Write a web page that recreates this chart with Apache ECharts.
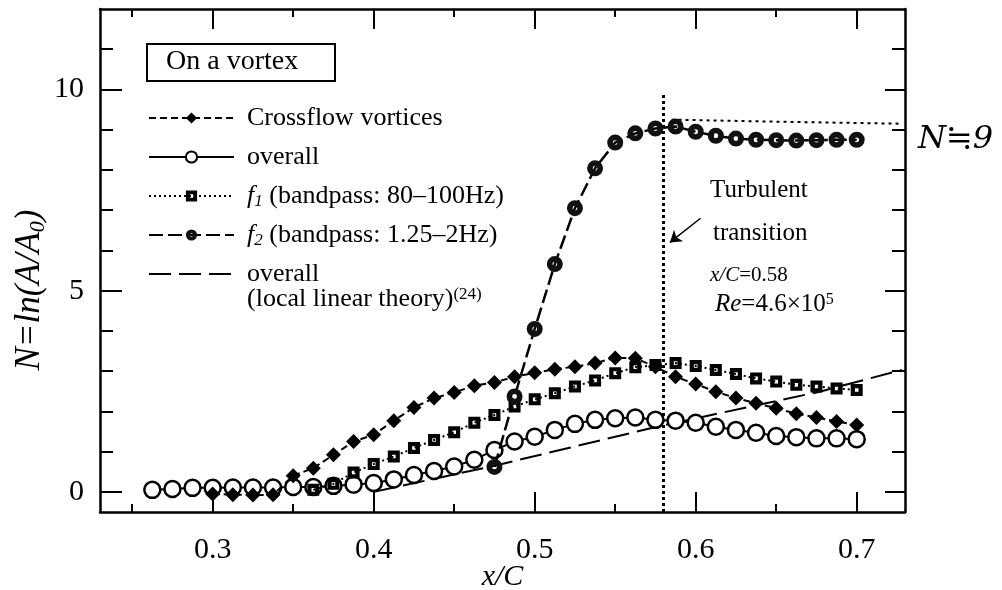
<!DOCTYPE html>
<html>
<head>
<meta charset="utf-8">
<script src="https://cdn.jsdelivr.net/npm/echarts@6/dist/echarts.min.js"></script>
<style>
    html, body { margin: 0; padding: 0; background: #fff; }
    #chart { width: 1002px; height: 590px; }
</style>
</head>
<body>
<div id="chart"></div>
<script>
// x/C stations of the measured points
var stations = [0.2625, 0.275, 0.2875, 0.3, 0.3125, 0.325, 0.3375, 0.35, 0.3625, 0.375, 0.3875, 0.4,
    0.4125, 0.425, 0.4375, 0.45, 0.4625, 0.475, 0.4875, 0.5, 0.5125, 0.525, 0.5375, 0.55,
    0.5625, 0.575, 0.5875, 0.6, 0.6125, 0.625, 0.6375, 0.65, 0.6625, 0.675, 0.6875, 0.7]

var crossflow = [null, null, null, -0.05, -0.07, -0.08, -0.07, 0.4, 0.59, 0.92, 1.25, 1.42,
    1.77, 2.1, 2.33, 2.47, 2.64, 2.72, 2.86, 2.96, 3.05, 3.11, 3.2, 3.33,
    3.32, 3.11, 2.86, 2.68, 2.49, 2.33, 2.2, 2.08, 1.94, 1.85, 1.75, 1.66]

var overall = [0.05, 0.07, 0.1, 0.1, 0.11, 0.11, 0.11, 0.12, 0.12, 0.15, 0.18, 0.22,
    0.31, 0.42, 0.52, 0.63, 0.8, 1.04, 1.25, 1.37, 1.54, 1.69, 1.79, 1.83,
    1.85, 1.79, 1.77, 1.72, 1.62, 1.54, 1.47, 1.39, 1.36, 1.33, 1.33, 1.31]

var f1Band = [null, null, null, null, null, null, null, null, 0.05, 0.2, 0.48, 0.69,
    0.88, 1.09, 1.29, 1.48, 1.72, 1.91, 2.12, 2.3, 2.45, 2.62, 2.77, 2.95,
    3.1, 3.15, 3.2, 3.13, 3.03, 2.93, 2.82, 2.74, 2.66, 2.62, 2.57, 2.53]

var f2Band = [null, null, null, null, null, null, null, null, null, null, null, null,
    null, null, null, null, null, 0.62, 2.37, 4.05, 5.66, 7.05, 8.04, 8.68,
    8.91, 9.03, 9.08, 8.95, 8.85, 8.78, 8.75, 8.74, 8.73, 8.74, 8.75, 8.75]

// local linear theory (ref. 24)
var theoryX = [0.4, 0.475, 0.576, 0.677, 0.728]
var theoryN = [0, 0.65, 1.62, 2.49, 3.03]

// turbulent transition and the hand drawn N=9 level
var transitionX = 0.58
var transitionN = [-0.5, 9.9]
var nineX = [0.585, 0.65, 0.727]
var nineN = [9.25, 9.2, 9.15]
var arrowFrom = [0.603, 6.8]
var arrowTo = [0.584, 6.2]

var xLabels = [0.3, 0.4, 0.5, 0.6, 0.7]
var xMinor = [0.25, 0.35, 0.45, 0.55, 0.65]
var yLabels = [0, 5, 10]
var yMinor = [1, 2, 3, 4, 6, 7, 8, 9, 11]

var serif = 'Liberation Serif'
var black = '#000'

function pairs(xs, ys) {
    return xs.map(function (x, i) {
        return [x, ys[i]]
    }).filter(function (p) {
        return p[1] != null
    })
}

function xAx(pos, ticks, len, line, labels) {
    return {
        type: 'value', min: 0.23, max: 0.73, position: pos,
        axisLine: {show: line, onZero: false, lineStyle: {color: black, width: 2.5}},
        axisTick: {show: true, inside: true, length: len, customValues: ticks, lineStyle: {color: black, width: 2}},
        axisLabel: labels ? {
            customValues: labels, color: black, fontSize: 30, fontFamily: serif, margin: 23,
            formatter: function (v) { return v.toFixed(1) }
        } : {show: false},
        splitLine: {show: false}
    }
}

function yAx(pos, ticks, len, line, labels) {
    return {
        type: 'value', min: -0.5, max: 12, position: pos,
        axisLine: {show: line, onZero: false, lineStyle: {color: black, width: 2.5}},
        axisTick: {show: true, inside: true, length: len, customValues: ticks, lineStyle: {color: black, width: 2}},
        axisLabel: labels ? {
            customValues: labels, color: black, fontSize: 30, fontFamily: serif, margin: 16
        } : {show: false},
        splitLine: {show: false}
    }
}

var ringPath = 'path://M10,0A10,10,0,1,1,-10,0A10,10,0,1,1,10,0ZM3,0A3,3,0,1,0,-3,0A3,3,0,1,0,3,0Z'
var squarePath = 'path://M-5,-5L5,-5L5,5L-5,5ZM-1.5,-1.5L-1.5,1.5L1.5,1.5L1.5,-1.5Z'

var chart = echarts.init(document.getElementById('chart'))

var xBottom = xAx('bottom', xLabels, 20, true, xLabels)
xBottom.name = 'x/C'
xBottom.nameLocation = 'middle'
xBottom.nameGap = 50
xBottom.nameMoveOverlap = false
xBottom.nameTextStyle = {color: black, fontSize: 30, fontFamily: serif, fontStyle: 'italic'}

var option = {
    animation: false,
    backgroundColor: '#fff',
    grid: {left: 100, right: 97, top: 9, bottom: 78, containLabel: false, outerBoundsMode: 'none'},
    xAxis: [
        xBottom,
        xAx('bottom', xMinor, 8, false),
        xAx('top', xLabels, 20, true),
        xAx('top', xMinor, 8, false)
    ],
    yAxis: [
        yAx('left', yLabels, 22, true, yLabels),
        yAx('left', yMinor, 13, false),
        yAx('right', yLabels, 20, true),
        yAx('right', yMinor, 13, false)
    ],
    legend: {
        orient: 'vertical',
        left: 143,
        top: 99,
        itemWidth: 85,
        itemHeight: 14,
        itemGap: 11,
        selectedMode: false,
        data: ['Crossflow vortices', 'overall', 'f1', 'f2', 'overall (local linear theory)'],
        formatter: function (name) {
            if (name == 'f1') return '{i|f}{sub|1} (bandpass: 80\u2013100Hz)'
            if (name == 'f2') return '{i|f}{sub|2} (bandpass: 1.25\u20132Hz)'
            if (name == 'overall (local linear theory)') return 'overall'
            return name
        },
        textStyle: {
            color: black, fontSize: 26, fontFamily: serif, lineHeight: 28, padding: [0, 0, 0, 8],
            rich: {
                i: {fontSize: 26, fontStyle: 'italic', fontFamily: serif, color: black},
                sub: {fontSize: 17, fontStyle: 'italic', fontFamily: serif, color: black, verticalAlign: 'bottom'}
            }
        }
    },
    graphic: [
        {
            type: 'rect', left: 146, top: 43, z: 10,
            shape: {width: 188, height: 37},
            style: {fill: '#fff', stroke: black, lineWidth: 2}
        },
        {
            type: 'text', x: 166, y: 62, z: 11,
            style: {text: 'On a vortex', fontSize: 28, fontFamily: serif, fill: black, verticalAlign: 'middle'}
        },
        {
            type: 'text', x: 247, y: 299, z: 11,
            style: {
                text: '(local linear theory){sup|(24)}', fontSize: 26, fontFamily: serif, fill: black, verticalAlign: 'middle',
                rich: {sup: {fontSize: 17, fontFamily: serif, fill: black, verticalAlign: 'top'}}
            }
        },
        {
            // y axis title
            type: 'text', x: 30, y: 290, rotation: Math.PI / 2,
            style: {
                text: '{i|N=ln(A/A}{s|0}{i|)}', fill: black, align: 'center', verticalAlign: 'middle',
                rich: {
                    i: {fontSize: 35, fontStyle: 'italic', fontFamily: serif, fill: black, lineHeight: 38},
                    s: {fontSize: 22, fontStyle: 'italic', fontFamily: serif, fill: black, verticalAlign: 'bottom', lineHeight: 38}
                }
            }
        },
        {
            type: 'text', x: 710, y: 190,
            style: {text: 'Turbulent', fontSize: 25, fontFamily: serif, fill: black, verticalAlign: 'middle'}
        },
        {
            type: 'text', x: 713, y: 233,
            style: {text: 'transition', fontSize: 25, fontFamily: serif, fill: black, verticalAlign: 'middle'}
        },
        {
            type: 'text', x: 710, y: 275,
            style: {
                text: '{i|x/C}=0.58', fontSize: 21, fontFamily: serif, fill: black, verticalAlign: 'middle',
                rich: {i: {fontSize: 21, fontStyle: 'italic', fontFamily: serif, fill: black}}
            }
        },
        {
            type: 'text', x: 715, y: 304,
            style: {
                text: '{i|Re}=4.6\u00d710{sup|5}', fontSize: 25, fontFamily: serif, fill: black, verticalAlign: 'middle',
                rich: {
                    i: {fontSize: 25, fontStyle: 'italic', fontFamily: serif, fill: black},
                    sup: {fontSize: 16, fontFamily: serif, fill: black, verticalAlign: 'top'}
                }
            }
        },
        {
            type: 'text', x: 918, y: 140,
            style: {text: 'N\u22529', fontSize: 32, fontFamily: 'DejaVu Serif', fontStyle: 'italic', fill: black, verticalAlign: 'middle'}
        }
    ],
    series: [
        {
            name: 'overall (local linear theory)',
            type: 'line',
            data: pairs(theoryX, theoryN),
            symbol: 'none',
            itemStyle: {color: black, opacity: 0},
            lineStyle: {color: black, width: 2, type: [22, 8], opacity: 1},
            z: 2
        },
        {
            name: 'transition',
            type: 'line',
            data: pairs([transitionX, transitionX], transitionN),
            symbol: 'none',
            lineStyle: {color: black, width: 3, type: [3, 3]},
            markLine: {
                silent: true,
                symbol: ['none', 'arrow'],
                symbolSize: 11,
                label: {show: false},
                lineStyle: {color: black, width: 1.5, type: 'solid'},
                data: [[{coord: arrowFrom}, {coord: arrowTo}]]
            },
            z: 2
        },
        {
            name: 'N9',
            type: 'line',
            data: pairs(nineX, nineN),
            symbol: 'none',
            lineStyle: {color: black, width: 2, type: [3, 4]},
            z: 2
        },
        {
            name: 'overall',
            type: 'line',
            data: pairs(stations, overall),
            symbol: 'circle',
            symbolSize: 16,
            itemStyle: {color: '#fff', borderColor: black, borderWidth: 2.5},
            lineStyle: {color: black, width: 2},
            z: 3
        },
        {
            name: 'f1',
            type: 'line',
            data: pairs(stations, f1Band),
            symbol: squarePath,
            symbolSize: 12,
            itemStyle: {color: black},
            lineStyle: {color: black, width: 2, type: [2, 3]},
            z: 4
        },
        {
            name: 'Crossflow vortices',
            type: 'line',
            data: pairs(stations, crossflow),
            symbol: 'diamond',
            symbolSize: 15,
            itemStyle: {color: black},
            lineStyle: {color: black, width: 2, type: [7, 4]},
            z: 5
        },
        {
            name: 'f2',
            type: 'line',
            data: pairs(stations, f2Band),
            symbol: ringPath,
            symbolSize: 16,
            itemStyle: {color: '#111'},
            lineStyle: {color: black, width: 2.5, type: [14, 5]},
            z: 6
        }
    ]
}

chart.setOption(option)
</script>
</body>
</html>
